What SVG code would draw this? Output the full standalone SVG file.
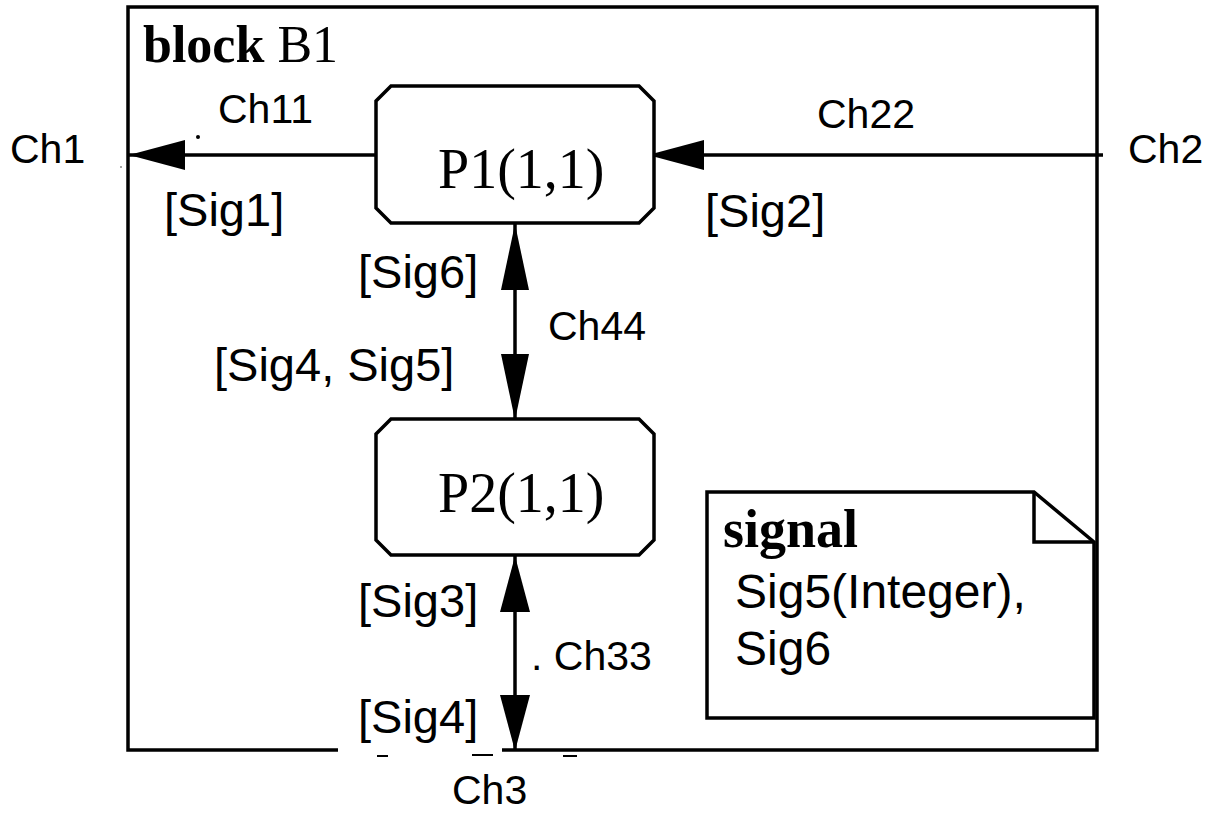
<svg xmlns="http://www.w3.org/2000/svg" width="1210" height="813" viewBox="0 0 1210 813">
<style>
.ln{fill:none;stroke:#000;stroke-width:3.5}
.box{fill:#fff;stroke:#000;stroke-width:3.5;stroke-linejoin:miter}
.sans{font-family:"Liberation Sans",Arial,sans-serif;fill:#000}
.ch{font-size:41px}
.sig{font-size:47px}
.note{font-size:48px}
.serif{font-family:"Liberation Serif","Times New Roman",serif;fill:#000}
.proc{font-size:56px}
.bold{font-weight:bold}
</style>
<defs>
<marker id="ah" viewBox="0 0 56 30" refX="56" refY="15" markerWidth="56" markerHeight="30" markerUnits="userSpaceOnUse" orient="auto-start-reverse">
<path d="M0,0 L56,15 L0,30 Z" fill="#000"/>
</marker>
<marker id="ahL" viewBox="0 0 66 28" refX="66" refY="14" markerWidth="66" markerHeight="28" markerUnits="userSpaceOnUse" orient="auto-start-reverse">
<path d="M0,0 L66,14 L0,28 Z" fill="#000"/>
</marker>
</defs>
<rect width="1210" height="813" fill="#fff"/>

<g id="block-B1">
<path class="ln" d="M338,750 H128 V7 H1097 V750 H502" stroke-width="4"/>
<text class="serif" x="143" y="62" font-size="52"><tspan font-weight="bold">block</tspan> B1</text>
</g>

<g id="connectors">
<line class="ln" x1="378" y1="155" x2="129" y2="155" marker-end="url(#ah)"/>
<line class="ln" x1="1103" y1="155" x2="648" y2="155" marker-end="url(#ah)"/>
<line class="ln" x1="515" y1="224" x2="515" y2="420" marker-start="url(#ahL)" marker-end="url(#ahL)"/>
<line class="ln" x1="515" y1="556" x2="515" y2="751" marker-start="url(#ah)" marker-end="url(#ah)"/>
<circle cx="198" cy="137" r="2" fill="#000"/>
<circle cx="121" cy="167" r="1" fill="#888"/>
<path d="M377,756 H388 M472,755 H493 M563,756 H577" stroke="#000" stroke-width="2"/>
</g>

<g id="P1">
<path class="box" d="M391,86 H639 L654,101 V208 L639,223 H391 L376,208 V101 Z"/>
<text class="serif proc" x="438" y="188">P1(1,1)</text>
</g>

<g id="P2">
<path class="box" d="M391,419 H639 L654,434 V540 L639,555 H391 L376,540 V434 Z"/>
<text class="serif proc" x="438" y="512">P2(1,1)</text>
</g>

<g id="note-signal">
<path class="box" d="M707,718 V492 H1034 L1094,542 V718 Z"/>
<path class="ln" d="M1034,492 V542 H1094"/>
<text class="serif bold" x="723" y="547" font-size="54">signal</text>
<text class="sans note" x="735" y="608">Sig5(Integer),</text>
<text class="sans note" x="735" y="665">Sig6</text>
</g>

<g id="labels">
<text class="sans ch" x="10" y="163">Ch1</text>
<text class="sans ch" x="218" y="123">Ch11</text>
<text class="sans sig" x="164" y="226">[Sig1]</text>
<text class="sans ch" x="817" y="128">Ch22</text>
<text class="sans ch" x="1128" y="163">Ch2</text>
<text class="sans sig" x="705" y="227">[Sig2]</text>
<text class="sans sig" x="358" y="288">[Sig6]</text>
<text class="sans ch" x="548" y="340">Ch44</text>
<text class="sans sig" x="214" y="381">[Sig4, Sig5]</text>
<text class="sans sig" x="358" y="617">[Sig3]</text>
<text class="sans ch" x="531" y="670">. Ch33</text>
<text class="sans sig" x="358" y="733">[Sig4]</text>
<text class="sans ch" x="452" y="804">Ch3</text>
</g>
</svg>
